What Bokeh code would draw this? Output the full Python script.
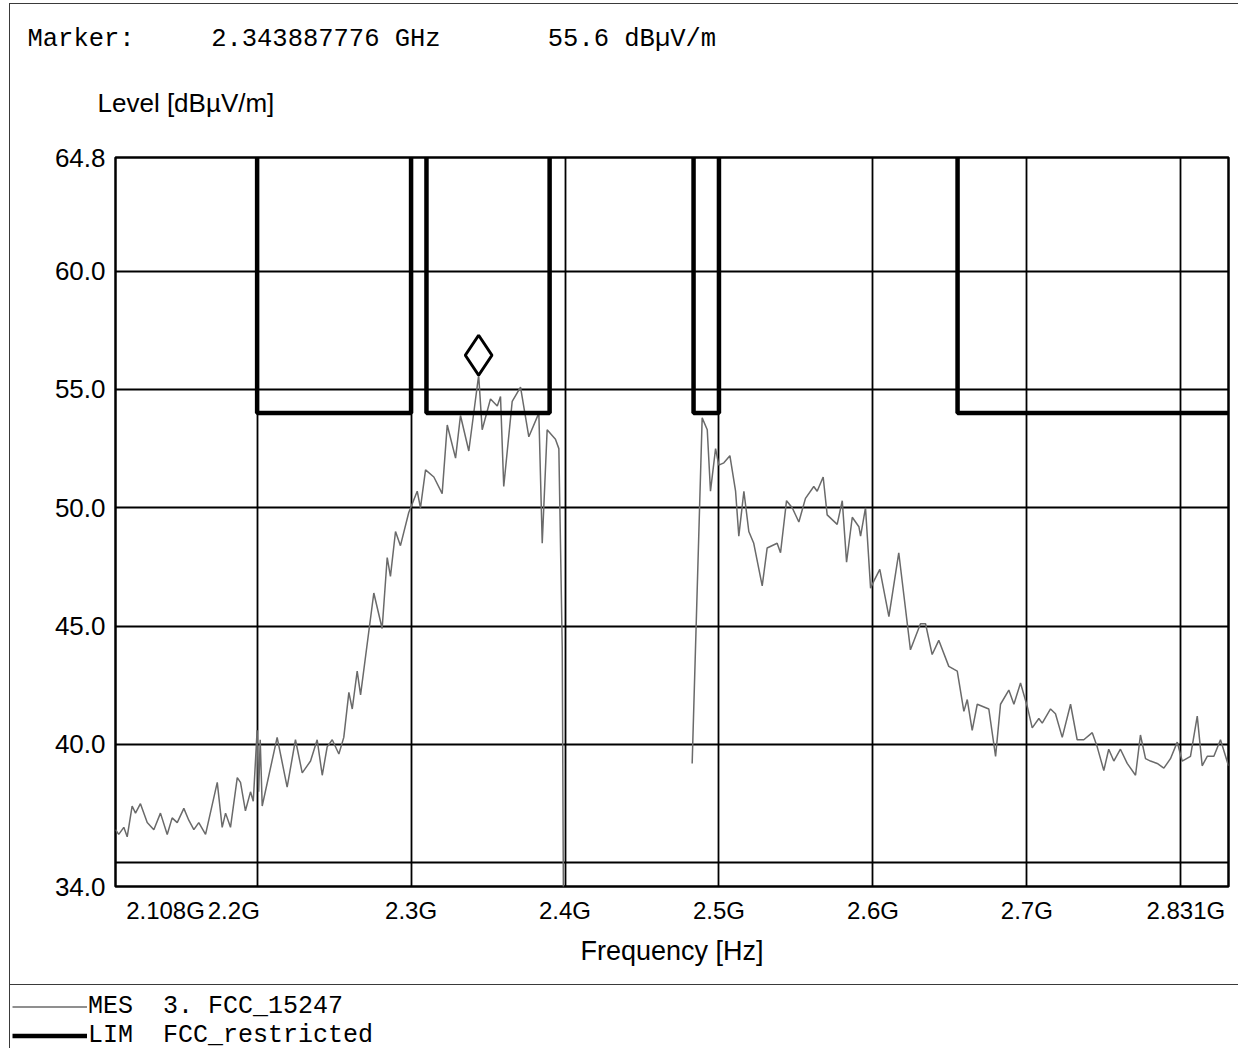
from bokeh.plotting import figure
from bokeh.models import (FixedTicker, Range1d, Title, Legend, LegendItem)
from bokeh.embed import file_html
from bokeh.resources import INLINE

# ---------------- data ----------------
# Measured trace (MES 3. FCC_15247), scan 1 (lower band)
scan1_freq_ghz = [2.1080, 2.1101, 2.1134, 2.1156, 2.1188, 2.1210, 2.1242, 2.1286, 2.1329, 2.1372,
                  2.1416, 2.1448, 2.1481, 2.1524, 2.1556, 2.1589, 2.1621, 2.1665, 2.1741, 2.1773,
                  2.1795, 2.1827, 2.1871, 2.1892, 2.1924, 2.1957, 2.1975, 2.2000, 2.2010, 2.2020,
                  2.2033, 2.2130, 2.2195, 2.2249, 2.2293, 2.2347, 2.2390, 2.2423, 2.2455, 2.2488,
                  2.2531, 2.2563, 2.2596, 2.2618, 2.2650, 2.2672, 2.2758, 2.2812, 2.2845, 2.2866,
                  2.2899, 2.2931, 2.2985, 2.3040, 2.3061, 2.3094, 2.3148, 2.3202, 2.3235, 2.3289,
                  2.3321, 2.3375, 2.3439, 2.3462, 2.3516, 2.3560, 2.3581, 2.3602, 2.3657, 2.3711,
                  2.3765, 2.3830, 2.3852, 2.3884, 2.3938, 2.3960, 2.3982, 2.3990]
scan1_level = [36.4, 36.2, 36.5, 36.1, 37.4, 37.1, 37.5, 36.7, 36.4, 37.1,
               36.2, 36.9, 36.7, 37.3, 36.8, 36.4, 36.7, 36.2, 38.4, 36.5,
               37.1, 36.5, 38.6, 38.4, 37.2, 38.0, 37.6, 40.6, 38.0, 40.2,
               37.4, 40.3, 38.2, 40.2, 38.8, 39.3, 40.2, 38.7, 39.9, 40.2,
               39.6, 40.3, 42.2, 41.5, 43.1, 42.1, 46.4, 44.9, 47.9, 47.1,
               49.0, 48.4, 49.8, 50.7, 50.0, 51.6, 51.3, 50.6, 53.5, 52.1,
               53.9, 52.4, 55.6, 53.3, 54.6, 54.3, 54.7, 50.9, 54.5, 55.1,
               53.0, 54.0, 48.5, 53.3, 52.9, 52.5, 44.1, 33.0]

# Measured trace, scan 2 (upper band)
scan2_freq_ghz = [2.4826, 2.4891, 2.4924, 2.4945, 2.4978, 2.4999, 2.5032, 2.5071, 2.5108, 2.5129,
                  2.5162, 2.5194, 2.5226, 2.5281, 2.5313, 2.5378, 2.5400, 2.5439, 2.5476, 2.5519,
                  2.5562, 2.5616, 2.5638, 2.5677, 2.5703, 2.5768, 2.5801, 2.5829, 2.5866, 2.5909,
                  2.5920, 2.5952, 2.5985, 2.6006, 2.6045, 2.6104, 2.6168, 2.6244, 2.6309, 2.6342,
                  2.6385, 2.6428, 2.6493, 2.6548, 2.6591, 2.6613, 2.6645, 2.6678, 2.6753, 2.6797,
                  2.6829, 2.6883, 2.6916, 2.6959, 2.7003, 2.7035, 2.7078, 2.7100, 2.7154, 2.7186,
                  2.7230, 2.7284, 2.7327, 2.7370, 2.7425, 2.7457, 2.7500, 2.7532, 2.7565, 2.7608,
                  2.7652, 2.7706, 2.7738, 2.7771, 2.7803, 2.7847, 2.7890, 2.7933, 2.7977, 2.8009,
                  2.8063, 2.8107, 2.8139, 2.8172, 2.8215, 2.8258, 2.8291, 2.8310]
scan2_level = [39.2, 53.8, 53.3, 50.7, 52.5, 51.8, 51.9, 52.2, 50.7, 48.8,
               50.7, 49.0, 48.5, 46.7, 48.3, 48.5, 48.1, 50.3, 50.0, 49.4,
               50.4, 50.9, 50.7, 51.3, 49.7, 49.3, 50.3, 47.7, 49.6, 49.2,
               48.8, 50.0, 46.6, 46.9, 47.4, 45.4, 48.1, 44.0, 45.1, 45.1,
               43.8, 44.4, 43.3, 43.1, 41.4, 41.9, 40.6, 41.7, 41.5, 39.5,
               41.7, 42.3, 41.7, 42.6, 41.6, 40.7, 41.1, 40.9, 41.5, 41.3,
               40.3, 41.7, 40.2, 40.2, 40.5, 39.9, 38.9, 39.8, 39.3, 39.8,
               39.2, 38.7, 40.4, 39.4, 39.3, 39.2, 39.0, 39.4, 40.1, 39.3,
               39.5, 41.2, 39.1, 39.5, 39.5, 40.2, 39.5, 39.1]

# Limit line (LIM FCC_restricted): 54 dBuV/m inside restricted bands, off-scale elsewhere
LIM_OFF_SCALE = 100.0
lim_freq_ghz = [2.108, 2.2, 2.2, 2.3, 2.3, 2.31, 2.31, 2.39, 2.39,
                2.4835, 2.4835, 2.5, 2.5, 2.655, 2.655, 2.831]
lim_level = [LIM_OFF_SCALE, LIM_OFF_SCALE, 54.0, 54.0, LIM_OFF_SCALE, LIM_OFF_SCALE, 54.0, 54.0, LIM_OFF_SCALE,
             LIM_OFF_SCALE, 54.0, 54.0, LIM_OFF_SCALE, LIM_OFF_SCALE, 54.0, 54.0]

marker_freq_ghz = 2.343887776
marker_level = 55.6

x_min, x_max = 2.108, 2.831
y_min, y_max = 34.0, 64.8
y_tick_values = [34.0, 40.0, 45.0, 50.0, 55.0, 60.0, 64.8]
y_tick_labels = ["34.0", "40.0", "45.0", "50.0", "55.0", "60.0", "64.8"]
y_grid_values = [35.0, 40.0, 45.0, 50.0, 55.0, 60.0]
x_tick_values = [2.108, 2.2, 2.3, 2.4, 2.5, 2.6, 2.7, 2.831]
x_tick_labels = ["2.108G", "2.2G", "2.3G", "2.4G", "2.5G", "2.6G", "2.7G", "2.831G"]
x_grid_values = [2.2, 2.3, 2.4, 2.5, 2.6, 2.7, 2.8]

header_marker = "Marker:"
header_freq = "2.343887776 GHz"
header_level = "55.6 dB\u00b5V/m"
y_title = "Level [dB\u00b5V/m]"
x_title = "Frequency [Hz]"
legend_mes = ("MES", "3. FCC_15247")
legend_lim = ("LIM", "FCC_restricted")

# ---------------- layout / style ----------------
NB = "\u00a0"
# label shifts (non-breaking-space padding: left pad, right pad) for the printout look
x_label_pad = [(15, 0), (0, 7), (0, 0), (0, 0), (0, 0), (0, 0), (0, 0), (0, 2)]

W = 1229                 # canvas width (page x 10 .. 1239)
H_MAIN = 981             # canvas height (page y 4 .. 985)
H_LEG = 64
FL, FT, FR, FB = 105, 153, 1218, 882   # frame edges in canvas px
frame_h = FB - FT

TICK_FONT = "Liberation Sans"
MONO = "Liberation Mono"
TRACE_COLOR = "#6a6a6a"
FRAME_COLOR = "#3a3a3a"

p = figure(width=W, height=H_MAIN, x_range=Range1d(x_min, x_max), y_range=Range1d(y_min, y_max),
           output_backend="svg", toolbar_location=None,
           min_border_left=FL, min_border_right=W - FR, min_border_top=FT, min_border_bottom=H_MAIN - FB,
           margin=(3, 0, 0, 9),
           styles={"border-top": f"1px solid {FRAME_COLOR}", "border-left": f"1px solid {FRAME_COLOR}"})
p.background_fill_color = "white"
p.border_fill_color = "white"
p.outline_line_color = "black"
p.outline_line_width = 2.5

# axes
p.xaxis.ticker = FixedTicker(ticks=x_tick_values)
p.xaxis.major_label_overrides = {
    v: NB * lp + lab + NB * rp for v, lab, (lp, rp) in zip(x_tick_values, x_tick_labels, x_label_pad)
}
p.yaxis.ticker = FixedTicker(ticks=y_tick_values)
p.yaxis.major_label_overrides = dict(zip(y_tick_values, y_tick_labels))
for ax in (p.xaxis[0], p.yaxis[0]):
    ax.axis_line_color = None
    ax.major_tick_line_color = None
    ax.minor_tick_line_color = None
    ax.major_tick_out = 0
    ax.major_tick_in = 0
    ax.major_label_text_font = TICK_FONT
    ax.major_label_text_color = "black"
p.xaxis.major_label_text_font_size = "24px"
p.yaxis.major_label_text_font_size = "26px"
p.xaxis.major_label_standoff = 10
p.yaxis.major_label_standoff = 10
p.xaxis.axis_label = x_title
p.xaxis.axis_label_text_font = TICK_FONT
p.xaxis.axis_label_text_font_size = "27px"
p.xaxis.axis_label_text_font_style = "normal"
p.xaxis.axis_label_text_color = "black"
p.xaxis.axis_label_standoff = 9

# grid
p.xgrid.ticker = FixedTicker(ticks=x_grid_values)
p.ygrid.ticker = FixedTicker(ticks=y_grid_values)
for g in (p.xgrid[0], p.ygrid[0]):
    g.grid_line_color = "black"
    g.grid_line_width = 1.8
    g.grid_line_alpha = 1.0

# traces
p.line(scan1_freq_ghz, scan1_level, line_color=TRACE_COLOR, line_width=1.5)
p.line(scan2_freq_ghz, scan2_level, line_color=TRACE_COLOR, line_width=1.5)
p.line(lim_freq_ghz, lim_level, line_color="black", line_width=4.5)

# marker diamond sitting on top of the marker point
DIAMOND = 40
dy = (DIAMOND / 2) * (y_max - y_min) / frame_h
p.scatter([marker_freq_ghz], [marker_level + dy], marker="diamond", size=DIAMOND,
          fill_color=None, line_color="black", line_width=3)

# titles above the frame (first added sits closest to the frame)
p.add_layout(Title(text=y_title, align="left", offset=87 - FL, standoff=80,
                   text_font=TICK_FONT, text_font_size="26px", text_font_style="normal",
                   text_color="black"), "above")
header = header_marker + NB * 5 + header_freq + NB * 7 + header_level
p.add_layout(Title(text=header, align="left", offset=17 - FL, standoff=-16,
                   text_font=MONO, text_font_size="25.5px", text_font_style="normal",
                   text_color="black"), "above")

# legend strip below the printout separator (separate root, so its frame spans its whole canvas)
q = figure(width=W, height=H_LEG, x_range=Range1d(0, 1), y_range=Range1d(0, 1),
           x_axis_type=None, y_axis_type=None,
           output_backend="svg", toolbar_location=None, min_border=0,
           margin=(0, 0, 0, 9),
           styles={"border-top": f"1px solid {FRAME_COLOR}", "border-left": f"1px solid {FRAME_COLOR}"})
q.grid.visible = False
q.outline_line_color = None
q.background_fill_color = "white"
q.border_fill_color = "white"
NAN = float("nan")
r_mes = q.line(x=[NAN], y=[NAN], line_color=TRACE_COLOR, line_width=1.5)
r_lim = q.line(x=[NAN], y=[NAN], line_color="black", line_width=4.5)
legend = Legend(items=[LegendItem(label=legend_mes[0] + NB * 2 + legend_mes[1], renderers=[r_mes]),
                       LegendItem(label=legend_lim[0] + NB * 2 + legend_lim[1], renderers=[r_lim])],
                location=(2, -1), orientation="vertical", glyph_width=75, glyph_height=29,
                label_standoff=1, spacing=0, padding=0, margin=0, border_line_color=None,
                background_fill_alpha=0, label_text_font=MONO, label_text_font_size="25px",
                label_text_color="black")
q.add_layout(legend)

open("out.html", "w").write(file_html([p, q], INLINE))
